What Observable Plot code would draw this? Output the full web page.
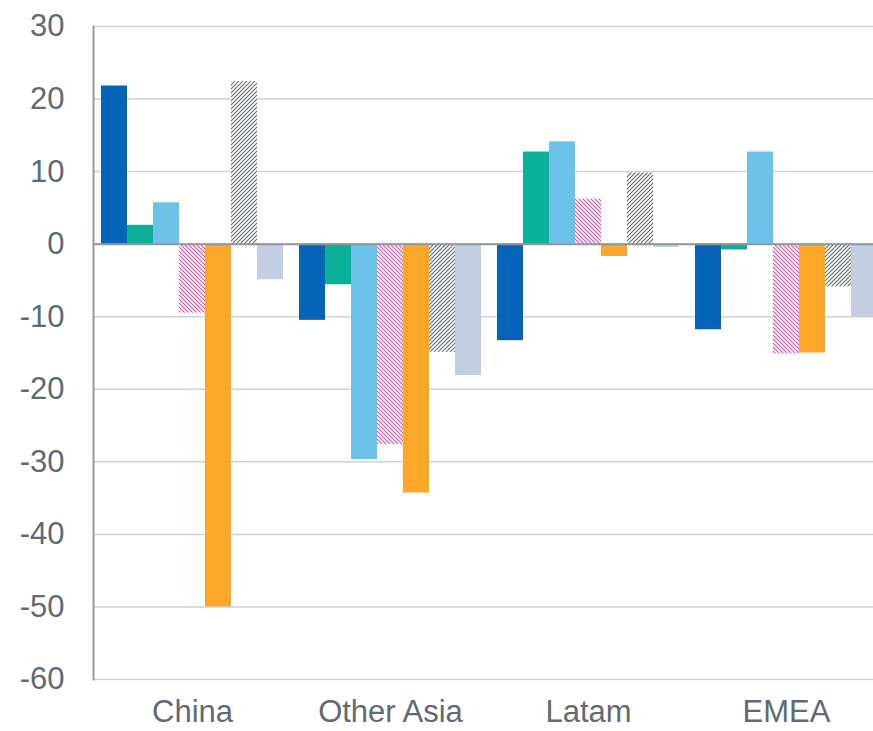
<!DOCTYPE html>
<html>
<head>
<meta charset="utf-8">
<script src="https://cdn.jsdelivr.net/npm/d3@7"></script>
<script src="https://cdn.jsdelivr.net/npm/@observablehq/plot@0.6"></script>
<style>
  html, body { margin: 0; padding: 0; background: #fff; overflow: hidden; }
</style>
</head>
<body>
<div id="chart"></div>
<script>
// ---- data ----
const regions = ["China", "Other Asia", "Latam", "EMEA"];
const seriesNames = ["S1", "S2", "S3", "S4", "S5", "S6", "S7"];
const s1 = [21.8, -10.5, -13.3, -11.8];   // dark blue
const s2 = [2.6, -5.6, 12.7, -0.8];       // teal
const s3 = [5.7, -29.7, 14.1, 12.7];      // light blue
const s4 = [-9.5, -27.6, 6.2, -15.1];     // pink hatched
const s5 = [-50.0, -34.3, -1.7, -15.0];   // orange
const s6 = [22.4, -14.9, 9.8, -5.9];      // grey hatched
const s7 = [-4.9, -18.1, -0.45, -10.1];   // light grey-blue
const yTicks = [30, 20, 10, 0, -10, -20, -30, -40, -50, -60];
const seriesColors = ["#0563b8", "#0bb098", "#6cc2e8", "url(#hatchPink)", "#fda72a", "url(#hatchGrey)", "#c3cee0"];

const allSeries = [s1, s2, s3, s4, s5, s6, s7];
const data = [];
regions.forEach((r, i) => {
  allSeries.forEach((s, j) => data.push({region: r, series: seriesNames[j], value: s[i]}));
});

const textColor = "#5f6a72";
const font = "'Liberation Sans', Arial, sans-serif";

const chart = Plot.plot({
  width: 885,
  height: 731,
  marginLeft: 93,
  marginRight: 0,
  marginTop: 26,
  marginBottom: 52,
  style: {fontFamily: font, fontSize: "31px", color: textColor, maxWidth: "none", background: "#fff"},
  fx: {domain: regions, padding: 0, label: null, axis: null},
  x: {domain: seriesNames, paddingInner: 0, paddingOuter: 0.1667, axis: null},
  y: {domain: [-60, 30], ticks: yTicks, label: null},
  color: {domain: seriesNames, range: seriesColors},
  marks: [
    Plot.gridY(yTicks, {stroke: "#d2d2d2", strokeOpacity: 1, strokeWidth: 1.5}),
    Plot.barY(data, {fx: "region", x: "series", y: "value", fill: "series", inset: 0}),
    Plot.ruleY([0], {stroke: "#8e969b", strokeWidth: 2}),
    Plot.frame({anchor: "left", facet: "super", stroke: "#959ca0", strokeWidth: 2}),
    Plot.axisY(yTicks, {tickSize: 0, tickPadding: 29, fontSize: 31, fill: textColor, label: null, tickFormat: d => String(d)}),
    Plot.axisFx({anchor: "bottom", tickSize: 0, tickPadding: 20, fontSize: 31, fill: textColor, label: null})
  ]
});

// hatch pattern definitions (styling)
const svgNS = "http://www.w3.org/2000/svg";
const svg = chart.tagName.toLowerCase() === "svg" ? chart : chart.querySelector("svg");
const defs = document.createElementNS(svgNS, "defs");
function hatch(id, color, dir, w) {
  const p = document.createElementNS(svgNS, "pattern");
  p.setAttribute("id", id);
  p.setAttribute("patternUnits", "userSpaceOnUse");
  p.setAttribute("width", 4);
  p.setAttribute("height", 4);
  const bg = document.createElementNS(svgNS, "rect");
  bg.setAttribute("width", 4); bg.setAttribute("height", 4); bg.setAttribute("fill", "#fff");
  p.appendChild(bg);
  const path = document.createElementNS(svgNS, "path");
  path.setAttribute("d", dir === "/" ? "M-1,1 L1,-1 M0,4 L4,0 M3,5 L5,3" : "M-1,3 L1,5 M0,0 L4,4 M3,-1 L5,1");
  path.setAttribute("stroke", color);
  path.setAttribute("stroke-width", w);
  p.appendChild(path);
  defs.appendChild(p);
}
hatch("hatchPink", "#c8509f", "\\", 1.05);
hatch("hatchGrey", "#62676b", "/", 1.1);
svg.insertBefore(defs, svg.firstChild);

document.getElementById("chart").appendChild(chart);
</script>
</body>
</html>
